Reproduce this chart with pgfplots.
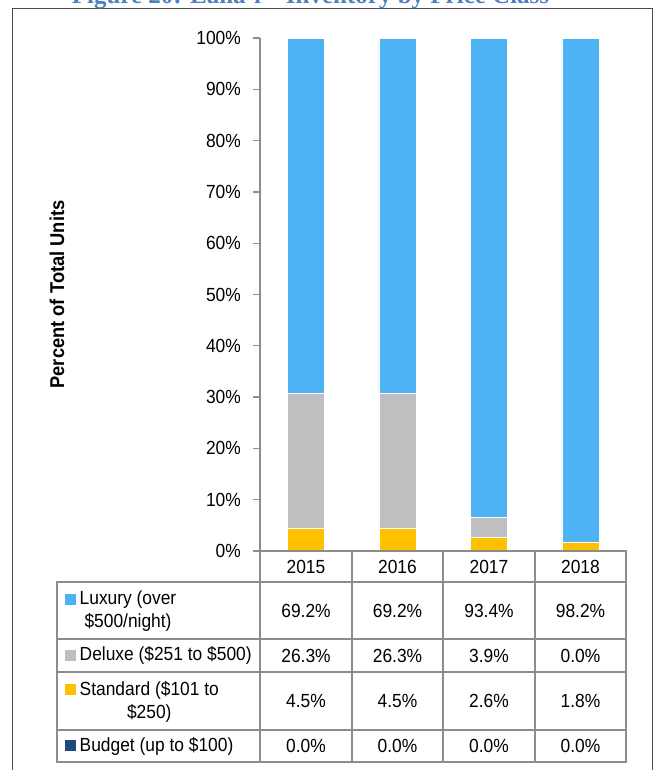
\documentclass[border=0pt]{standalone}
\usepackage{fontspec}
\setmainfont{Liberation Sans}[FakeStretch=0.915]
\newfontfamily\titlefont{Liberation Serif}
\usepackage{pgfplots}
\pgfplotsset{compat=1.18}
\definecolor{lux}{HTML}{4DB3F5}
\definecolor{dlx}{HTML}{BFBFBF}
\definecolor{std}{HTML}{FFC000}
\definecolor{bud}{HTML}{1F497D}
\definecolor{rule}{HTML}{8C8C8C}
\definecolor{titleblue}{HTML}{4F81BD}

\begin{document}
\begin{tikzpicture}[font=\fontsize{19bp}{23bp}\selectfont]
\useasboundingbox (0,0) rectangle (656bp,-770bp);

\begin{axis}[
  at={(260bp,-551bp)}, anchor=south west,
  scale only axis, width=366bp, height=513bp,
  xmin=-0.5, xmax=3.5, ymin=0, ymax=100,
  ybar stacked, bar width=37bp,
  axis lines*=left, axis on top,
  axis line style={draw=rule, line width=1.3bp},
  xtick=\empty,
  ytick={0,10,...,100},
  yticklabel={\pgfmathprintnumber{\tick}\%},
  /pgf/number format/assume math mode=true,
  tick align=outside, major tick length=7bp,
  ytick style={draw=rule, line width=1.3bp},
  yticklabel style={anchor=east, inner sep=0pt, xshift=-12bp},
  ylabel={Percent of Total Units},
  ylabel style={at={(axis description cs:-0.5546,0.5)}, anchor=center,
    font=\fontsize{20bp}{24bp}\selectfont\bfseries},
]
% bottom to top: Budget, Standard, Deluxe, Luxury
\addplot[fill=bud, draw=none] coordinates {(0,0) (1,0) (2,0) (3,0)};
\addplot[fill=std, draw=white, line width=0.4bp] coordinates {(0,4.5) (1,4.5) (2,2.6) (3,1.8)};
\addplot[fill=dlx, draw=white, line width=0.4bp] coordinates {(0,26.3) (1,26.3) (2,3.9) (3,0)};
\addplot[fill=lux, draw=white, line width=0.4bp] coordinates {(0,69.2) (1,69.2) (2,93.4) (3,98.2)};
\end{axis}

\begin{scope}[x=1bp, y=-1bp]
  % outer frame and title (cut by the page top)
  \draw[black!70, line width=1bp] (12,8.5) rectangle (652.5,800);
  \node[anchor=base, inner sep=0, text=titleblue,
    font=\titlefont\fontsize{25bp}{30bp}\selectfont\bfseries]
    at (310.5,3) {Figure 20: Lanaʻi – Inventory by Price Class};

  % data table grid
  \begin{scope}[draw=rule, line width=1.3bp]
    \draw (260,551) -- (626,551) -- (626,762) -- (57,762) -- (57,582) -- (626,582);
    \foreach \yy in {639,672,730} \draw (57,\yy) -- (626,\yy);
    \foreach \xx in {260,352,443,535} \draw (\xx,551) -- (\xx,762);
  \end{scope}

  % header years
  \foreach \xx/\yr in {306/2015,397.5/2016,489/2017,580.5/2018}
    \node at (\xx,566.5) {\yr};

  % legend keys and row labels
  \fill[lux] (65,593.5) rectangle (76,604.5);
  \fill[dlx] (65,650) rectangle (76,661);
  \fill[std] (65,684) rectangle (76,695);
  \fill[bud] (65,740) rectangle (76,751);
  \node[anchor=west, align=center, inner sep=0] at (79.5,611) {Luxury (over\\\$500/night)};
  \node[anchor=west, inner sep=0] at (79.5,655.5) {Deluxe (\$251 to \$500)};
  \node[anchor=west, align=center, inner sep=0] at (79.5,701.5) {Standard (\$101 to\\\$250)};
  \node[anchor=west, inner sep=0] at (79.5,746) {Budget (up to \$100)};

  % values
  \foreach \xx/\va/\vb/\vc/\vd in {306/69.2/26.3/4.5/0.0, 397.5/69.2/26.3/4.5/0.0,
                                   489/93.4/3.9/2.6/0.0, 580.5/98.2/0.0/1.8/0.0} {
    \node at (\xx,610.5) {\va\%};
    \node at (\xx,655.5) {\vb\%};
    \node at (\xx,701) {\vc\%};
    \node at (\xx,746) {\vd\%};
  }
\end{scope}
\end{tikzpicture}
\end{document}
